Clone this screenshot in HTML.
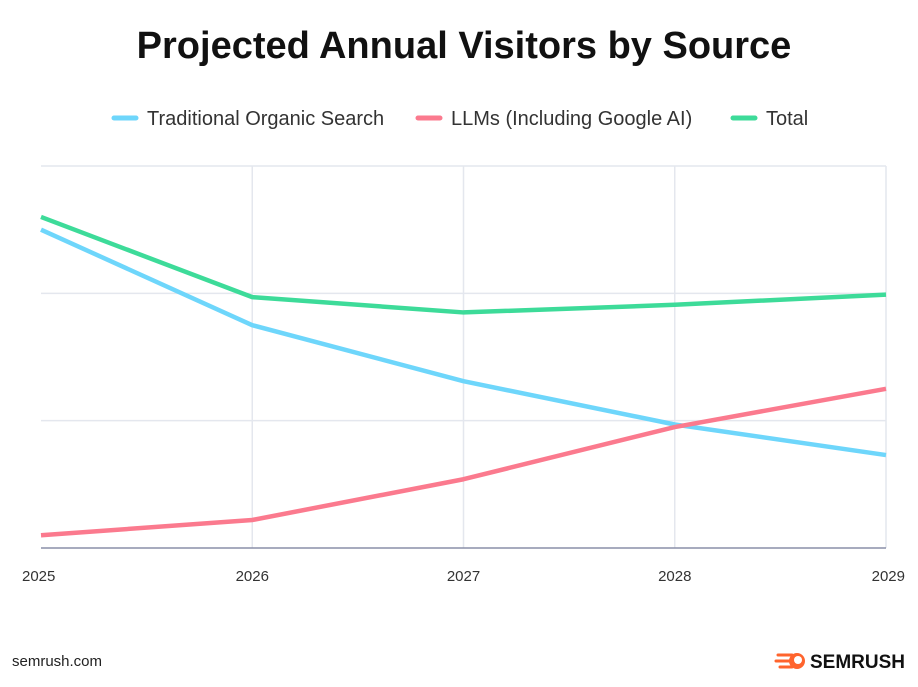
<!DOCTYPE html>
<html><head><meta charset="utf-8">
<style>
body{margin:0;background:#fff;width:918px;height:682px;overflow:hidden;font-family:"Liberation Sans",sans-serif;}
</style></head>
<body>
<svg id="chart" width="918" height="682" xmlns="http://www.w3.org/2000/svg">
<text x="464" y="58" text-anchor="middle" font-size="38" font-weight="bold" fill="#111">Projected Annual Visitors by Source</text>
<g>
<g><line x1="114" y1="118" x2="136" y2="118" stroke="#6ed6fb" stroke-width="5" stroke-linecap="round"/><text x="147" y="125" font-size="20" fill="#333">Traditional Organic Search</text></g>
<g><line x1="418" y1="118" x2="440" y2="118" stroke="#fb7a8e" stroke-width="5" stroke-linecap="round"/><text x="451" y="125" font-size="20" fill="#333">LLMs (Including Google AI)</text></g>
<g><line x1="733" y1="118" x2="755" y2="118" stroke="#3ddb99" stroke-width="5" stroke-linecap="round"/><text x="766" y="125" font-size="20" fill="#333">Total</text></g>
</g>
<g id="grid"></g>
<g id="xticks"></g>
<g id="series"></g>
<text x="12" y="666" font-size="15" fill="#222">semrush.com</text>
<g>
<path d="M778 655 L792 655 M776 661 L790 661 M780 667 L792 667" stroke="#ff642d" stroke-width="3" stroke-linecap="round"/>
<circle cx="797" cy="661" r="8" fill="#ff642d"/><circle cx="798" cy="660" r="4" fill="#fff"/>
<text x="810" y="668" font-size="19" font-weight="bold" fill="#111">SEMRUSH</text>
</g>
</svg>
<script>
const years=["2025","2026","2027","2028","2029"];
const organic=[2.5,1.75,1.31,0.97,0.73];
const llms=[0.1,0.22,0.54,0.95,1.25];
const total=[2.6,1.97,1.85,1.91,1.99];
const yTicks=[1,2,3,0];
const NS="http://www.w3.org/2000/svg";
const x0=41,x1=886,yBase=548,yTop=166,yMax=3;
const xs=i=>x0+i*(x1-x0)/(years.length-1);
const ys=v=>yBase-v*(yBase-yTop)/yMax;
const grid=document.getElementById('grid');
const xt=document.getElementById('xticks');
years.forEach((y,i)=>{
if(i>0){const l=document.createElementNS(NS,'line');
l.setAttribute('x1',xs(i));l.setAttribute('x2',xs(i));l.setAttribute('y1',yTop);l.setAttribute('y2',yBase);
l.setAttribute('stroke','#e4e7ee');l.setAttribute('stroke-width',1.5);


grid.appendChild(l);}
const t=document.createElementNS(NS,'text');t.textContent=y;
t.setAttribute('x',i===0?22:(i===years.length-1?xs(i)+19:xs(i)));t.setAttribute('y',581);t.setAttribute('text-anchor',i===0?'start':(i===years.length-1?'end':'middle'));
t.setAttribute('font-size',15);t.setAttribute('fill','#333');


xt.appendChild(t);});
yTicks.forEach(t=>{const l=document.createElementNS(NS,'line');
l.setAttribute('x1',x0);l.setAttribute('x2',x1);l.setAttribute('y1',ys(t));l.setAttribute('y2',ys(t));
l.setAttribute('stroke',t===0?'#8a8fa8':'#e4e7ee');l.setAttribute('stroke-width',1.5);


grid.appendChild(l);});
const ser=document.getElementById('series');
[[organic,'#6ed6fb','line-organic'],[llms,'#fb7a8e','line-llms'],[total,'#3ddb99','line-total']].forEach(([d,c,n])=>{
const p=document.createElementNS(NS,'polyline');
p.setAttribute('points',d.map((v,i)=>xs(i)+','+ys(v)).join(' '));
p.setAttribute('fill','none');p.setAttribute('stroke',c);p.setAttribute('stroke-width',4.5);p.setAttribute('stroke-linejoin','round');


ser.appendChild(p);});
</script>
</body></html>
